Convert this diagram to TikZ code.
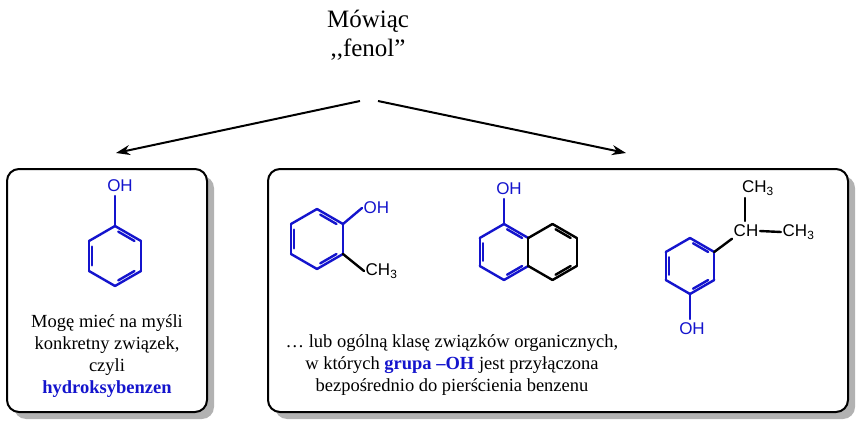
\documentclass[tikz,border=0pt]{standalone}
\usepackage{fontspec}
\setmainfont{Liberation Serif}
\newfontfamily\chem{Liberation Sans}
\usetikzlibrary{arrows.meta}
\definecolor{myblue}{RGB}{20,20,205}
\begin{document}
\begin{tikzpicture}[x=1pt,y=-1pt,
  box/.style={draw=black,line width=2pt,rounded corners=12pt},
  shadowbox/.style={fill=black!30,rounded corners=12pt},
  bond/.style={line width=2.4pt,line cap=round,line join=round},
  lbl/.style={font=\chem\fontsize{17}{17}\selectfont,inner sep=1.5pt},
  txt/.style={font=\fontsize{18.5}{22}\selectfont,align=center},
  arr/.style={line width=2pt,-{Stealth[length=14pt,width=10pt]}}]
\useasboundingbox (0,0) rectangle (863,428);
% boxes
\fill[shadowbox] (14,176) rectangle (214,419);
\fill[shadowbox] (275,176) rectangle (855,419);
\draw[box,fill=white] (7,169) rectangle (207,412);
\draw[box,fill=white] (268,169) rectangle (848,412);
% title
\node[font=\fontsize{25}{29}\selectfont,align=center] (title) at (368,35) {Mówiąc\\{,}{,}fenol\char34};
\coordinate (s1) at (360,101); \coordinate (s2) at (378,101);
\coordinate (e1) at (116,153); \coordinate (e2) at (626,153);
\draw[arr] (s1) -- (e1);
\draw[arr] (s2) -- (e2);
% ring macro
\newcommand\ring[5]{% cx cy r color doubles-list
  \foreach \i in {0,...,5}{
    \draw[bond,#4] ({#1+#3*cos(90-60*\i)},{#2-#3*sin(90-60*\i)}) -- ({#1+#3*cos(30-60*\i)},{#2-#3*sin(30-60*\i)});}
  \foreach \i in {#5}{
    \draw[bond,#4] ({#1+0.75*#3*cos(90-60*\i)+0.125*#3*cos(30-60*\i)},{#2-0.75*#3*sin(90-60*\i)-0.125*#3*sin(30-60*\i)}) -- ({#1+0.75*#3*cos(30-60*\i)+0.125*#3*cos(90-60*\i)},{#2-0.75*#3*sin(30-60*\i)-0.125*#3*sin(90-60*\i)});}
}
% phenol
\ring{115}{256}{30}{myblue}{0,2,4}
\node[lbl,text=myblue] (oh1) at (120,186) {OH};
\draw[bond,myblue] (115,226) -- (115,196);
\node[txt] (t1) at (107,356) {Mogę mieć na myśli\\konkretny związek,\\czyli\\\textbf{\color{myblue}hydroksybenzen}};
% cresol
\ring{317}{239}{30}{myblue}{0,2,4}
\node[lbl,text=myblue,anchor=west] (oh2) at (362,208) {OH};
\draw[bond,myblue] (343,224) -- (oh2.west);
\node[lbl,anchor=west] (ch3a) at (364,271) {CH\textsubscript{3}};
\draw[bond] (343,254) -- (ch3a.west);
% naphthol
\ring{504}{252}{28}{myblue}{0,2,4}
\ring{552.5}{252}{28}{black}{0,2}
\draw[bond] (528.2,238) -- (528.2,266);
\node[lbl,text=myblue] (oh3) at (509,189) {OH};
\draw[bond,myblue] (504,224) -- (504,199);
% isopropylphenol
\ring{690}{266}{28}{myblue}{0,2,4}
\node[lbl,text=myblue] (oh4) at (692,329) {OH};
\draw[bond,myblue] (690,294) -- (690,319);
\node[lbl] (ch) at (746,231) {CH};
\draw[bond] (714.2,252) -- (ch.south west);
\node[lbl,anchor=west] (ch3b) at (781,232) {CH\textsubscript{3}};
\draw[bond] (ch.east) -- (ch3b.west);
\node[lbl] (ch3c) at (758,188) {CH\textsubscript{3}};
\draw[bond] (745,198) -- (745,221);
% text right
\node[txt] (t2) at (452,365) {… lub ogólną klasę związków organicznych,\\w których \textbf{\color{myblue}grupa –OH} jest przyłączona\\bezpośrednio do pierścienia benzenu};
\end{tikzpicture}
\end{document}
